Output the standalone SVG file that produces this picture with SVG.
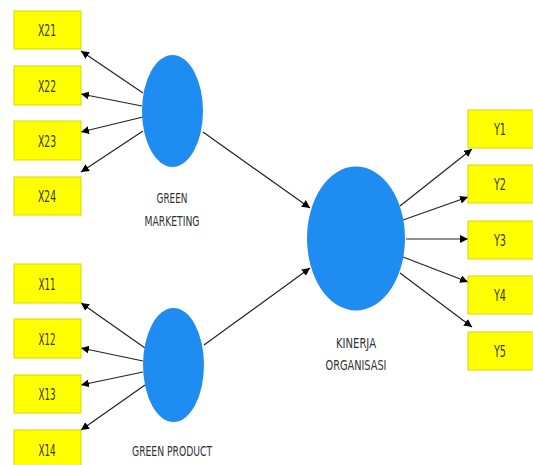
<svg xmlns="http://www.w3.org/2000/svg" width="533" height="465" viewBox="0 0 533 465">
<style>
.box{fill:#FFFF00;stroke:#D8D800;stroke-width:1}
.lv{fill:#1E8CF0}
.bt{font-family:"DejaVu Sans Condensed","Liberation Sans",sans-serif;font-size:16px;fill:#333;text-anchor:middle}
.lt{font-family:"DejaVu Sans Condensed","Liberation Sans",sans-serif;font-size:14px;fill:#333;text-anchor:middle}
.c line{stroke:#222;stroke-width:1.2;marker-end:url(#ah)}
</style>
<defs>
<marker id="ah" viewBox="0 0 10 10" refX="10" refY="5" markerWidth="8" markerHeight="8" orient="auto" markerUnits="userSpaceOnUse">
<path d="M0,0 L10,5 L0,10 z" fill="#000"/>
</marker>
</defs>
<rect width="533" height="465" fill="#fff"/>
<g class="c">
<line x1="143" y1="93" x2="81" y2="51"/>
<line x1="142" y1="106" x2="81" y2="94"/>
<line x1="143" y1="117" x2="81" y2="132"/>
<line x1="143" y1="131" x2="81" y2="172"/>
<line x1="145" y1="348" x2="81" y2="303"/>
<line x1="143" y1="361" x2="81" y2="348"/>
<line x1="143" y1="372" x2="81" y2="385"/>
<line x1="145" y1="385" x2="81" y2="430"/>
<line x1="203" y1="132" x2="310" y2="208"/>
<line x1="204" y1="345" x2="310" y2="268"/>
<line x1="400" y1="206" x2="472" y2="149"/>
<line x1="403" y1="220" x2="468" y2="197"/>
<line x1="406" y1="239" x2="468" y2="239"/>
<line x1="403" y1="257" x2="468" y2="282"/>
<line x1="400" y1="273" x2="472" y2="327"/>
</g>
<g id="x21"><rect class="box" x="14" y="11" width="67" height="38"/><text class="bt" x="47" y="36" textLength="18" lengthAdjust="spacingAndGlyphs">X21</text></g>
<g id="x22"><rect class="box" x="14" y="66" width="67" height="39"/><text class="bt" x="47" y="92" textLength="18" lengthAdjust="spacingAndGlyphs">X22</text></g>
<g id="x23"><rect class="box" x="14" y="121" width="67" height="39"/><text class="bt" x="47" y="147" textLength="18" lengthAdjust="spacingAndGlyphs">X23</text></g>
<g id="x24"><rect class="box" x="14" y="177" width="67" height="38"/><text class="bt" x="47" y="202" textLength="18" lengthAdjust="spacingAndGlyphs">X24</text></g>
<g id="x11"><rect class="box" x="14" y="264" width="67" height="39"/><text class="bt" x="47" y="290" textLength="17" lengthAdjust="spacingAndGlyphs">X11</text></g>
<g id="x12"><rect class="box" x="14" y="319" width="67" height="39"/><text class="bt" x="47" y="345" textLength="17" lengthAdjust="spacingAndGlyphs">X12</text></g>
<g id="x13"><rect class="box" x="14" y="375" width="67" height="38"/><text class="bt" x="47" y="400" textLength="17" lengthAdjust="spacingAndGlyphs">X13</text></g>
<g id="x14"><rect class="box" x="14" y="430" width="67" height="40"/><text class="bt" x="47" y="456" textLength="17" lengthAdjust="spacingAndGlyphs">X14</text></g>
<g id="y1"><rect class="box" x="468" y="110" width="66" height="38"/><text class="bt" x="500" y="135" textLength="12" lengthAdjust="spacingAndGlyphs">Y1</text></g>
<g id="y2"><rect class="box" x="468" y="165" width="66" height="38"/><text class="bt" x="500" y="190" textLength="12" lengthAdjust="spacingAndGlyphs">Y2</text></g>
<g id="y3"><rect class="box" x="468" y="221" width="66" height="38"/><text class="bt" x="500" y="246" textLength="12" lengthAdjust="spacingAndGlyphs">Y3</text></g>
<g id="y4"><rect class="box" x="468" y="276" width="66" height="38"/><text class="bt" x="500" y="301" textLength="12" lengthAdjust="spacingAndGlyphs">Y4</text></g>
<g id="y5"><rect class="box" x="468" y="332" width="66" height="38"/><text class="bt" x="500" y="357" textLength="12" lengthAdjust="spacingAndGlyphs">Y5</text></g>
<g id="gm"><ellipse class="lv" cx="172.5" cy="111" rx="30.5" ry="56"/><text class="lt" x="172" y="203" textLength="31" lengthAdjust="spacingAndGlyphs">GREEN</text><text class="lt" x="172" y="226" textLength="55" lengthAdjust="spacingAndGlyphs">MARKETING</text></g>
<g id="gp"><ellipse class="lv" cx="173.5" cy="365" rx="30.5" ry="57"/><text class="lt" x="172" y="456" textLength="80" lengthAdjust="spacingAndGlyphs">GREEN PRODUCT</text></g>
<g id="ko"><ellipse class="lv" cx="356" cy="238.5" rx="49" ry="72"/><text class="lt" x="356" y="348" textLength="40" lengthAdjust="spacingAndGlyphs">KINERJA</text><text class="lt" x="356" y="370" textLength="61" lengthAdjust="spacingAndGlyphs">ORGANISASI</text></g>
</svg>
